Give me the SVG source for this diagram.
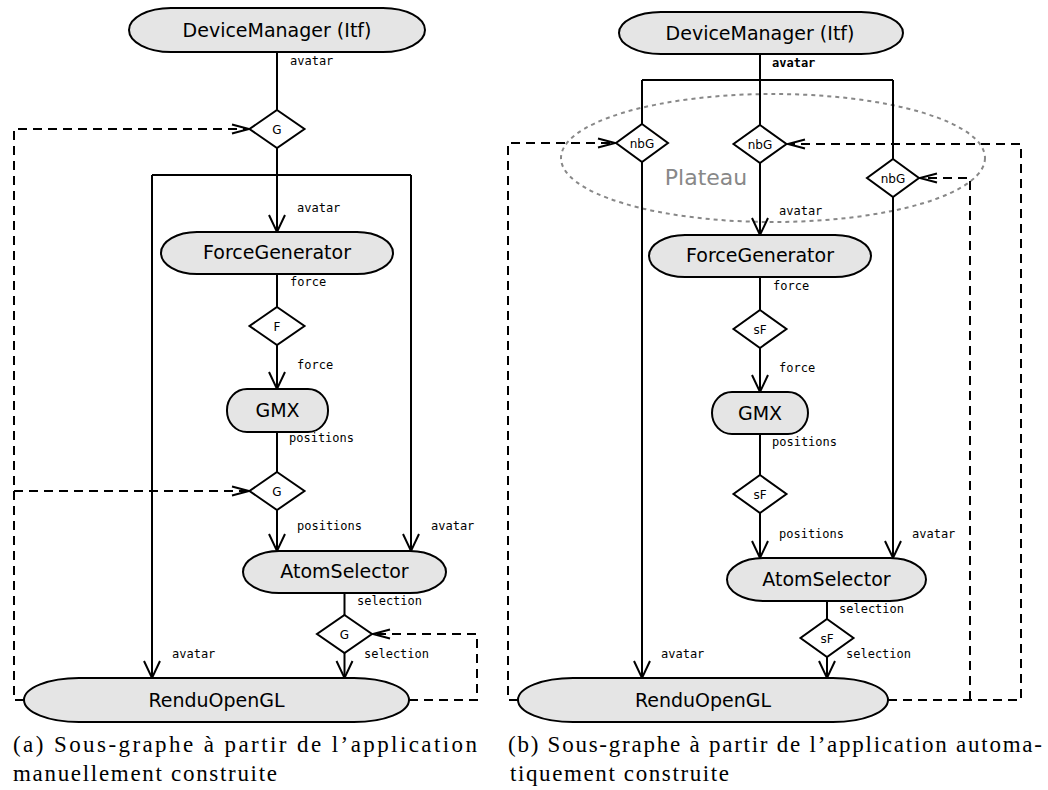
<svg xmlns="http://www.w3.org/2000/svg" width="1048" height="790" viewBox="0 0 1048 790">
<style>
.node{fill:#e5e5e5;stroke:#000;stroke-width:2}
.dia{fill:#fff;stroke:#000;stroke-width:2}
.nt{font-family:"DejaVu Sans",sans-serif;font-size:19px;text-anchor:middle;fill:#000}
.dt{font-family:"DejaVu Sans",sans-serif;font-size:12px;text-anchor:middle;fill:#000}
.el{font-family:"DejaVu Sans Mono",monospace;font-size:12px;fill:#000}
.e{fill:none;stroke:#000;stroke-width:2}
.d{fill:none;stroke:#000;stroke-width:2;stroke-dasharray:9,6}
.cap{font-family:"Liberation Serif",serif;font-size:23px;fill:#000}
</style>
<defs>
<marker id="arr" markerUnits="userSpaceOnUse" viewBox="-19 -10 21 20" refX="0" refY="0" markerWidth="21" markerHeight="20" orient="auto" overflow="visible">
<path d="M-17,-8 L0,0 L-17,8" fill="none" stroke="#000" stroke-width="2"/>
</marker>
<marker id="darr" markerUnits="userSpaceOnUse" viewBox="-19 -7 21 14" refX="0" refY="0" markerWidth="21" markerHeight="14" orient="auto" overflow="visible">
<path d="M-17,-4.5 L0,0 L-17,4.5" fill="none" stroke="#000" stroke-width="2"/>
</marker>
</defs>

<!-- Plateau -->
<g id="plateau">
<ellipse cx="773" cy="158" rx="212" ry="64" fill="none" stroke="#888" stroke-width="2" stroke-dasharray="4,4"/>
<text x="706" y="185" font-family="DejaVu Sans,sans-serif" font-size="22" fill="#888" text-anchor="middle">Plateau</text>
</g>

<g id="connectors">
<!-- left -->
<path class="e" d="M277,52 V110"/>
<path class="e" d="M277,148 V232" marker-end="url(#arr)"/>
<path class="e" d="M152,175 H411"/>
<path class="e" d="M152,175 V678" marker-end="url(#arr)"/>
<path class="e" d="M411,175 V551" marker-end="url(#arr)"/>
<path class="e" d="M277,274 V307"/>
<path class="e" d="M277,345 V389" marker-end="url(#arr)"/>
<path class="e" d="M277,432 V472"/>
<path class="e" d="M277,510 V551" marker-end="url(#arr)"/>
<path class="e" d="M344.5,593 V615"/>
<path class="e" d="M344.5,653 V678" marker-end="url(#arr)"/>
<path class="d" d="M24,700 H14 V129 H249" marker-end="url(#darr)"/>
<path class="d" d="M14,491 H249" marker-end="url(#darr)"/>
<path class="d" d="M409,700 H477 V634 H373" marker-end="url(#darr)"/>
<!-- right -->
<path class="e" d="M760,54 V125"/>
<path class="e" d="M642,80 H893"/>
<path class="e" d="M642,80 V124"/>
<path class="e" d="M893,80 V159"/>
<path class="e" d="M642,162 V678" marker-end="url(#arr)"/>
<path class="e" d="M760,163 V235" marker-end="url(#arr)"/>
<path class="e" d="M893,197 V558" marker-end="url(#arr)"/>
<path class="e" d="M760,277 V310"/>
<path class="e" d="M760,348 V392" marker-end="url(#arr)"/>
<path class="e" d="M760,434 V475"/>
<path class="e" d="M760,513 V558" marker-end="url(#arr)"/>
<path class="e" d="M827,601 V619"/>
<path class="e" d="M827,657 V678" marker-end="url(#arr)"/>
<path class="d" d="M518,700 H508 V143 H615" marker-end="url(#darr)"/>
<path class="d" d="M888,700 H1021 V144 H788" marker-end="url(#darr)"/>
<path class="d" d="M970,700 V178 H920" marker-end="url(#darr)"/>
<!-- edge labels -->
<text class="el" x="290" y="65">avatar</text>
<text class="el" x="297" y="212">avatar</text>
<text class="el" x="290" y="286">force</text>
<text class="el" x="297" y="369">force</text>
<text class="el" x="289" y="442">positions</text>
<text class="el" x="297" y="530">positions</text>
<text class="el" x="431" y="530">avatar</text>
<text class="el" x="357" y="605">selection</text>
<text class="el" x="172" y="658">avatar</text>
<text class="el" x="364" y="658">selection</text>
<text class="el" x="772" y="67" font-weight="bold">avatar</text>
<text class="el" x="779" y="215">avatar</text>
<text class="el" x="773" y="290">force</text>
<text class="el" x="779" y="372">force</text>
<text class="el" x="772" y="446">positions</text>
<text class="el" x="779" y="538">positions</text>
<text class="el" x="912" y="538">avatar</text>
<text class="el" x="839" y="613">selection</text>
<text class="el" x="661" y="658">avatar</text>
<text class="el" x="846" y="658">selection</text>
</g>

<!-- left nodes -->
<g id="a-devicemanager"><rect class="node" x="129" y="8" width="296" height="44" rx="42" ry="22"/><text class="nt" x="277" y="37">DeviceManager (Itf)</text></g>
<g id="a-g1"><polygon class="dia" points="277,110 304.5,129 277,148 249.5,129"/><text class="dt" x="277" y="134">G</text></g>
<g id="a-forcegenerator"><rect class="node" x="161" y="232" width="232" height="42" rx="36" ry="21"/><text class="nt" x="277" y="259">ForceGenerator</text></g>
<g id="a-f"><polygon class="dia" points="277,307 304.5,326 277,345 249.5,326"/><text class="dt" x="277" y="331">F</text></g>
<g id="a-gmx"><rect class="node" x="227" y="389" width="101" height="43" rx="20" ry="21"/><text class="nt" x="277.5" y="417">GMX</text></g>
<g id="a-g2"><polygon class="dia" points="277,472 304.5,491 277,510 249.5,491"/><text class="dt" x="277" y="496">G</text></g>
<g id="a-atomselector"><rect class="node" x="243" y="551" width="203" height="42" rx="36" ry="21"/><text class="nt" x="344.5" y="578">AtomSelector</text></g>
<g id="a-g3"><polygon class="dia" points="344.5,615 372,634 344.5,653 317,634"/><text class="dt" x="344.5" y="639">G</text></g>
<g id="a-rendu"><rect class="node" x="24" y="678" width="385" height="44" rx="55" ry="22"/><text class="nt" x="216.5" y="707">RenduOpenGL</text></g>

<!-- right nodes -->
<g id="b-devicemanager"><rect class="node" x="619" y="12" width="284" height="42" rx="42" ry="21"/><text class="nt" x="760" y="40">DeviceManager (Itf)</text></g>
<g id="b-nbg1"><polygon class="dia" points="642,124 668,143 642,162 616,143"/><text class="dt" x="642" y="148">nbG</text></g>
<g id="b-nbg2"><polygon class="dia" points="760,125 786.5,144 760,163 733.5,144"/><text class="dt" x="760" y="149">nbG</text></g>
<g id="b-nbg3"><polygon class="dia" points="893,159 919,178 893,197 867,178"/><text class="dt" x="893" y="183">nbG</text></g>
<g id="b-forcegenerator"><rect class="node" x="649" y="235" width="222" height="42" rx="36" ry="21"/><text class="nt" x="760" y="262">ForceGenerator</text></g>
<g id="b-sf1"><polygon class="dia" points="760,310 786.5,329 760,348 733.5,329"/><text class="dt" x="760" y="334">sF</text></g>
<g id="b-gmx"><rect class="node" x="712" y="392" width="96" height="42" rx="20" ry="21"/><text class="nt" x="760" y="420">GMX</text></g>
<g id="b-sf2"><polygon class="dia" points="760,475 786.5,494 760,513 733.5,494"/><text class="dt" x="760" y="499">sF</text></g>
<g id="b-atomselector"><rect class="node" x="727" y="558" width="199" height="43" rx="36" ry="21.5"/><text class="nt" x="826.5" y="586">AtomSelector</text></g>
<g id="b-sf3"><polygon class="dia" points="827,619 853.5,638 827,657 800.5,638"/><text class="dt" x="827" y="643">sF</text></g>
<g id="b-rendu"><rect class="node" x="518" y="678" width="370" height="44" rx="55" ry="22"/><text class="nt" x="703" y="707">RenduOpenGL</text></g>

<!-- captions -->
<g id="captions">
<text class="cap" x="13" y="752" textLength="464" lengthAdjust="spacing">(a) Sous-graphe à partir de l’application</text>
<text class="cap" x="13" y="781" textLength="264" lengthAdjust="spacing">manuellement construite</text>
<text class="cap" x="508" y="752" textLength="534" lengthAdjust="spacing">(b) Sous-graphe à partir de l’application automa-</text>
<text class="cap" x="510" y="781" textLength="219" lengthAdjust="spacing">tiquement construite</text>
</g>
</svg>
